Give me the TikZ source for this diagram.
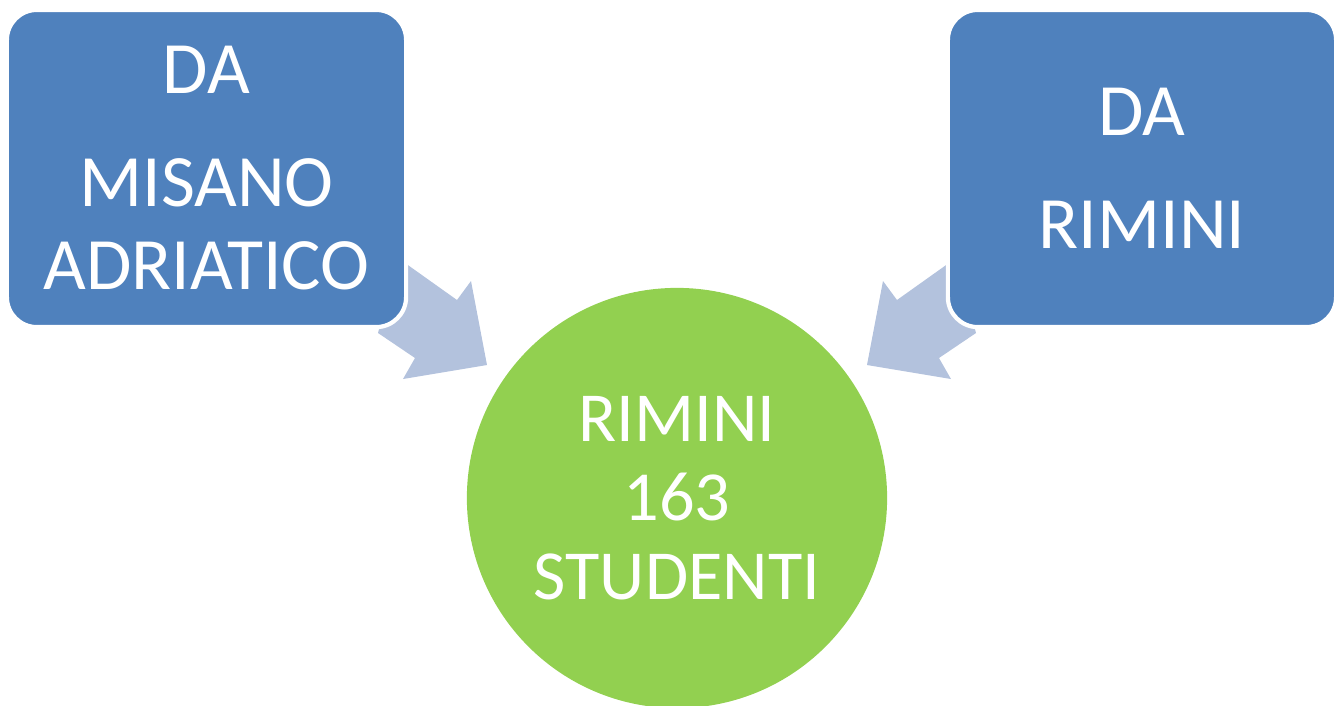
\documentclass[tikz,border=0pt]{standalone}
\usepackage{fontspec}
\setmainfont{Carlito}
\usetikzlibrary{arrows}
\definecolor{boxblue}{HTML}{4F81BD}
\definecolor{arrowblue}{HTML}{B3C2DD}
\definecolor{ballgreen}{HTML}{92D050}
\tikzset{
  fromcity/.style={rectangle,rounded corners=0.3cm,fill=boxblue,draw=white,line width=1.2pt,
    text=white,align=center,font=\fontsize{21}{23.6}\selectfont},
  target/.style={circle,fill=ballgreen,text=white,align=center,minimum size=4.2cm,inner sep=0pt,
    font=\fontsize{20}{22.4}\selectfont},
  flow/.style={fill=arrowblue,draw=none}
}
\begin{document}
\begin{tikzpicture}[scale=1,line cap=round,line join=round,x=0.01cm,y=-0.01cm]
\useasboundingbox (0,0) rectangle (1335,705);
%arrows (behind the boxes)
\fill [flow] (398,258) -- (457,300) -- (471,281) -- (487,365) -- (403,379) -- (415,358) -- (378,333) -- cycle;
\fill [flow] (956,258) -- (897,300) -- (883,281) -- (867,365) -- (951,379) -- (939,358) -- (976,333) -- cycle;
%target
\node [target] (rimini) at (677,498) {RIMINI\\163\\STUDENTI};
%sources
\node [fromcity,minimum width=3.99cm,minimum height=3.17cm] (misano) at (206.5,168.5) {DA\\[0.3cm]MISANO\\ADRIATICO};
\node [fromcity,minimum width=3.88cm,minimum height=3.17cm] (daRimini) at (1142,168.5) {DA\\[0.3cm]RIMINI};
\end{tikzpicture}
\end{document}
